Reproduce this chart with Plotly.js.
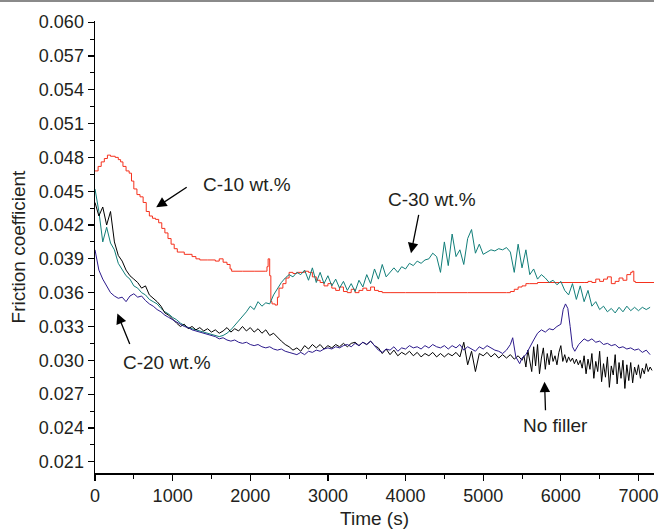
<!DOCTYPE html>
<html>
<head>
<meta charset="utf-8">
<script src="https://cdn.plot.ly/plotly-3.0.1.min.js"></script>
<style>html,body{margin:0;padding:0;background:#fff;}#chart{width:659px;height:531px;}</style>
</head>
<body>
<div id="chart"></div>
<script>
// ---- data (time in s, friction coefficient) ----
const gridTime = [0,50,100,150,200,250,300,350,400,450,500,550,600,650,700,750,800,850,900,950,
1000,1050,1100,1150,1200,1250,1300,1350,1400,1450,1500,1550,1600,1650,1700,1750,1800,1850,1900,1950,
2000,2050,2100,2150,2200,2250,2300,2350,2400,2450,2500,2550,2600,2650,2700,2750,2800,2850,2900,2950,
3000,3050,3100,3150,3200,3250,3300,3350,3400,3450,3500,3550,3600,3650,3700,3750,3800,3850,3900,3950,
4000,4050,4100,4150,4200,4250,4300,4350,4400,4450,4500,4550,4600,4650,4700,4750,4800,4850,4900,4950,
5000,5050,5100,5150,5200,5250,5300,5350,5400,5450,5500,5550,5600,5650,5700,5750,5800,5850,5900,5950,
6000,6050,6100,6150,6200,6250,6300,6350,6400,6450,6500,6550,6600,6650,6700,6750,6800,6850,6900,6950,
7000,7050,7100,7150];

const c10Time = [0,40,80,120,160,200,260,300,330,360,400,440,470,500,540,580,620,660,700,740,780,820,860,900,940,980,1020,1060,1150,1250,1300,1350,1450,1550,1600,1650,1700,1740,1760,1900,2050,2200,2215,2230,2250,2265,2280,2320,2350,2370,2420,2460,2500,2550,2600,2700,2750,2800,2850,2900,2950,3000,3050,3100,3150,3200,3250,3300,3350,3400,3450,3500,3550,3600,3650,3700,3800,4000,4400,4800,5300,5350,5400,5450,5500,5550,5600,5700,6000,6300,6350,6400,6450,6500,6550,6600,6650,6700,6750,6800,6850,6900,6920,6940,6960,7200];
const c10Value = [0.0468,0.0472,0.0476,0.0479,0.0482,0.0481,0.0480,0.0478,0.0476,0.0472,0.0468,0.0466,0.0459,0.0452,0.0447,0.0445,0.0440,0.0432,0.0428,0.0426,0.0425,0.0422,0.0417,0.0413,0.0408,0.0403,0.0399,0.0396,0.0394,0.0392,0.0390,0.0389,0.0389,0.0388,0.0390,0.0387,0.0385,0.0381,0.0379,0.0379,0.0379,0.0379,0.0383,0.0390,0.0375,0.0352,0.0350,0.0349,0.0356,0.0364,0.0368,0.0373,0.0378,0.0377,0.0378,0.0379,0.0378,0.0374,0.0371,0.0369,0.0366,0.0368,0.0364,0.0362,0.0365,0.0361,0.0360,0.0363,0.0360,0.0362,0.0364,0.0362,0.0365,0.0362,0.0361,0.0360,0.0360,0.0360,0.0360,0.0360,0.0360,0.0361,0.0363,0.0365,0.0366,0.0368,0.0368,0.0369,0.0369,0.0369,0.0370,0.0369,0.0372,0.0370,0.0372,0.0374,0.0368,0.0370,0.0373,0.0371,0.0376,0.0378,0.0379,0.0370,0.0369,0.0369];

const c30Value = [0.0452,0.0432,0.0405,0.0418,0.0404,0.0398,0.0386,0.0381,0.0375,0.0372,
0.0366,0.0364,0.0360,0.0358,0.0354,0.0352,0.0350,0.0346,0.0343,0.0341,
0.0338,0.0336,0.0333,0.0331,0.0329,0.0328,0.0327,0.0326,0.0325,0.0324,
0.0323,0.0322,0.0321,0.0322,0.0324,0.0327,0.0331,0.0334,0.0338,0.0343,
0.0348,0.0345,0.0352,0.0348,0.0351,0.0350,0.0358,0.0364,0.0369,0.0373,
0.0376,0.0374,0.0378,0.0376,0.0380,0.0371,0.0382,0.0369,0.0378,0.0368,
0.0375,0.0366,0.0372,0.0364,0.0370,0.0362,0.0368,0.0361,0.0371,0.0365,
0.0376,0.0368,0.0381,0.0372,0.0385,0.0374,0.0378,0.0382,0.0378,0.0383,
0.0381,0.0386,0.0384,0.0388,0.0386,0.0389,0.0390,0.0395,0.0392,0.0378,
0.0405,0.0384,0.0412,0.0392,0.0398,0.0385,0.0408,0.0416,0.0395,0.0403,
0.0394,0.0396,0.0398,0.0397,0.0399,0.0398,0.0400,0.0396,0.0378,0.0403,
0.0382,0.0398,0.0376,0.0381,0.0372,0.0376,0.0373,0.0369,0.0371,0.0367,
0.0370,0.0362,0.0358,0.0368,0.0354,0.0366,0.0352,0.0362,0.0348,0.0352,
0.0345,0.0348,0.0343,0.0346,0.0342,0.0347,0.0343,0.0348,0.0344,0.0347,
0.0344,0.0347,0.0345,0.0347];

const noFillerTime = [0,50,100,150,200,250,300,350,400,450,500,550,600,650,700,750,800,850,900,950,
1000,1050,1100,1150,1200,1250,1300,1350,1400,1450,1500,1550,1600,1650,1700,1750,1800,1850,1900,1950,
2000,2050,2100,2150,2200,2250,2300,2350,2400,2450,2500,2550,2600,2650,2700,2750,2800,2850,2900,2950,
3000,3050,3100,3150,3200,3250,3300,3350,3400,3450,3500,3550,3600,3650,3700,3750,3800,3850,3900,3950,
4000,4050,4100,4150,4200,4250,4300,4350,4400,4450,4500,4550,4600,4650,4700,4750,4800,4850,4900,4950,
5000,5050,5100,5150,5200,5250,5300,5350,5400,5450,
5500,5525,5550,5575,5600,5625,5650,5675,5700,5725,5750,5775,5800,5825,5850,5875,5900,5925,5950,5975,
6000,6025,6050,6075,6100,6125,6150,6175,6200,6225,6250,6275,6300,6325,6350,6375,6400,6425,6450,6475,
6500,6525,6550,6575,6600,6625,6650,6675,6700,6725,6750,6775,6800,6825,6850,6875,6900,6925,6950,6975,
7000,7025,7050,7075,7100,7125,7150,7175];
const noFillerValue = [0.0440,0.0428,0.0436,0.0420,0.0432,0.0405,0.0393,0.0388,0.0380,0.0375,
0.0372,0.0369,0.0364,0.0366,0.0358,0.0355,0.0352,0.0348,0.0342,0.0340,
0.0336,0.0333,0.0330,0.0332,0.0328,0.0330,0.0327,0.0329,0.0326,0.0328,
0.0325,0.0327,0.0324,0.0326,0.0329,0.0325,0.0328,0.0326,0.0330,0.0326,
0.0329,0.0325,0.0328,0.0324,0.0327,0.0322,0.0324,0.0320,0.0317,0.0314,
0.0312,0.0309,0.0311,0.0308,0.0313,0.0310,0.0314,0.0311,0.0314,0.0310,
0.0313,0.0311,0.0314,0.0312,0.0315,0.0312,0.0315,0.0316,0.0313,0.0316,
0.0314,0.0317,0.0313,0.0311,0.0306,0.0310,0.0305,0.0309,0.0304,0.0307,
0.0305,0.0308,0.0304,0.0307,0.0303,0.0306,0.0304,0.0307,0.0303,0.0306,
0.0303,0.0306,0.0304,0.0307,0.0303,0.0316,0.0296,0.0308,0.0290,0.0306,
0.0304,0.0307,0.0303,0.0306,0.0302,0.0305,0.0302,0.0305,0.0301,0.0304,
0.0300,0.0304,0.0294,0.0309,0.0298,0.0290,0.0312,0.0295,0.0314,0.0288,0.0302,0.0311,0.0292,0.0306,0.0296,0.0309,0.0299,0.0304,0.0296,0.0307,
0.0313,0.0299,0.0305,0.0298,0.0303,0.0299,0.0302,0.0297,0.0301,0.0296,0.0300,0.0293,0.0304,0.0288,0.0301,0.0292,0.0306,0.0284,0.0299,0.0290,
0.0308,0.0281,0.0297,0.0285,0.0303,0.0276,0.0295,0.0287,0.0305,0.0279,0.0298,0.0284,0.0300,0.0275,0.0296,0.0282,0.0298,0.0280,0.0294,0.0287,
0.0296,0.0284,0.0293,0.0288,0.0297,0.0290,0.0294,0.0291];

const c20Time = [0,50,100,150,200,250,300,350,400,450,500,550,600,650,700,750,800,850,900,950,
1000,1050,1100,1150,1200,1250,1300,1350,1400,1450,1500,1550,1600,1650,1700,1750,1800,1850,1900,1950,
2000,2050,2100,2150,2200,2250,2300,2350,2400,2450,2500,2550,2600,2650,2700,2750,2800,2850,2900,2950,
3000,3050,3100,3150,3200,3250,3300,3350,3400,3450,3500,3550,3600,3650,3700,3750,3800,3850,3900,3950,
4000,4050,4100,4150,4200,4250,4300,4350,4400,4450,4500,4550,4600,4650,4700,4750,4800,4850,4900,4950,
5000,5050,5100,5150,5200,5250,5300,5350,5380,5420,5470,5500,5550,5600,5650,5700,5750,5800,5850,5900,5950,
6000,6030,6060,6090,6120,6150,6180,6230,6300,6350,6400,6450,6500,6550,6600,6650,6700,6750,6800,6850,6900,6950,
7000,7050,7100,7150];
const c20Value = [0.0398,0.0380,0.0372,0.0366,0.0360,0.0357,0.0355,0.0356,0.0352,0.0357,
0.0359,0.0356,0.0357,0.0353,0.0350,0.0348,0.0345,0.0343,0.0340,0.0338,
0.0336,0.0334,0.0332,0.0330,0.0329,0.0327,0.0326,0.0325,0.0324,0.0323,
0.0322,0.0321,0.0319,0.0320,0.0318,0.0317,0.0318,0.0316,0.0315,0.0316,
0.0314,0.0313,0.0314,0.0312,0.0311,0.0312,0.0310,0.0309,0.0310,0.0308,
0.0307,0.0306,0.0305,0.0307,0.0305,0.0308,0.0307,0.0309,0.0308,0.0310,
0.0311,0.0310,0.0312,0.0311,0.0313,0.0314,0.0312,0.0315,0.0313,0.0316,
0.0314,0.0317,0.0313,0.0309,0.0307,0.0310,0.0309,0.0312,0.0308,0.0311,
0.0310,0.0313,0.0311,0.0312,0.0310,0.0313,0.0311,0.0314,0.0312,0.0311,
0.0313,0.0310,0.0313,0.0311,0.0314,0.0309,0.0312,0.0310,0.0308,0.0312,
0.0310,0.0313,0.0311,0.0309,0.0308,0.0306,0.0309,0.0314,0.0320,0.0303,0.0297,0.0302,0.0305,0.0312,0.0318,0.0324,0.0327,0.0325,0.0328,0.0327,0.0330,
0.0332,0.0345,0.0350,0.0346,0.0330,0.0312,0.0308,0.0314,0.0319,0.0317,0.0319,0.0316,0.0317,0.0314,0.0315,0.0313,0.0314,0.0311,0.0312,0.0310,0.0311,0.0309,
0.0310,0.0307,0.0309,0.0305];

const seriesNames = ['C-10 wt.%','C-30 wt.%','C-20 wt.%','No filler'];
const yTickVals = [0.021,0.024,0.027,0.030,0.033,0.036,0.039,0.042,0.045,0.048,0.051,0.054,0.057,0.060];
const xTickVals = [0,1000,2000,3000,4000,5000,6000,7000];

const FONT = '"Liberation Sans", Arial, Helvetica, sans-serif';
const INK = '#231f20';

const traces = [
  {x: c10Time, y: c10Value, name: seriesNames[0], mode: 'lines', line: {color: '#f5311d', width: 1, shape: 'hv'}},
  {x: gridTime, y: c30Value, name: seriesNames[1], mode: 'lines', line: {color: '#117e79', width: 1}},
  {x: noFillerTime, y: noFillerValue, name: seriesNames[3], mode: 'lines', line: {color: '#000000', width: 1}},
  {x: c20Time, y: c20Value, name: seriesNames[2], mode: 'lines', line: {color: '#2c1a8c', width: 1}}
];

function label(text, x, y) {
  return {x: x, y: y, xref: 'x', yref: 'y', text: text, showarrow: false,
          font: {family: FONT, size: 19, color: INK}, xanchor: 'center', yanchor: 'middle'};
}
function arrow(x, y, ax, ay) {
  return {x: x, y: y, xref: 'x', yref: 'y', text: '', showarrow: true, ax: ax, ay: ay,
          arrowhead: 2, arrowsize: 1.6, arrowwidth: 1.3, arrowcolor: '#000', standoff: 0, startstandoff: 0};
}

const layout = {
  width: 659, height: 531,
  margin: {l: 95, r: 5, t: 21, b: 58},
  paper_bgcolor: '#fff', plot_bgcolor: '#fff',
  showlegend: false,
  font: {family: FONT, color: INK, size: 18},
  xaxis: {
    range: [0, 7200], tickvals: xTickVals, ticktext: xTickVals.map(String),
    ticklabeloverflow: 'allow',
    ticks: 'outside', ticklen: 6, tickwidth: 1.2, tickcolor: '#000',
    minor: {dtick: 500, tick0: 0, ticks: 'outside', ticklen: 4, tickwidth: 1, tickcolor: '#000'},
    showline: true, linecolor: '#000', linewidth: 1.5, showgrid: false, zeroline: false,
    tickfont: {family: FONT, size: 18, color: INK},
    title: {text: 'Time (s)', font: {family: FONT, size: 19, color: INK}, standoff: 6}
  },
  yaxis: {
    range: [0.0200, 0.0601], tickvals: yTickVals, ticktext: yTickVals.map(v => v.toFixed(3)),
    ticks: 'outside', ticklen: 6, tickwidth: 1.2, tickcolor: '#000',
    minor: {dtick: 0.0015, tick0: 0.021, ticks: 'outside', ticklen: 4, tickwidth: 1, tickcolor: '#000'},
    showline: true, linecolor: '#000', linewidth: 1.5, showgrid: false, zeroline: false,
    tickfont: {family: FONT, size: 18, color: INK},
    title: {text: 'Friction coefficient', font: {family: FONT, size: 19, color: INK}, standoff: 8}
  },
  annotations: [
    label('C-10 wt.%', 1960, 0.04561), arrow(788, 0.04357, 32, -21),
    label('C-30 wt.%', 4340, 0.04428), arrow(4070, 0.03949, 8, -40),
    label('C-20 wt.%', 929, 0.02980), arrow(288, 0.03416, 13, 32),
    label('No filler', 5929, 0.02421), arrow(5790, 0.02810, 1, 30)
  ],
  shapes: [
    {type: 'line', xref: 'paper', yref: 'paper', x0: -0.17, x1: 1.0, y0: 1.044, y1: 1.044,
     line: {color: '#8a8a8a', width: 2}}
  ]
};

Plotly.newPlot('chart', traces, layout, {displayModeBar: false, staticPlot: true});
</script>
</body>
</html>
